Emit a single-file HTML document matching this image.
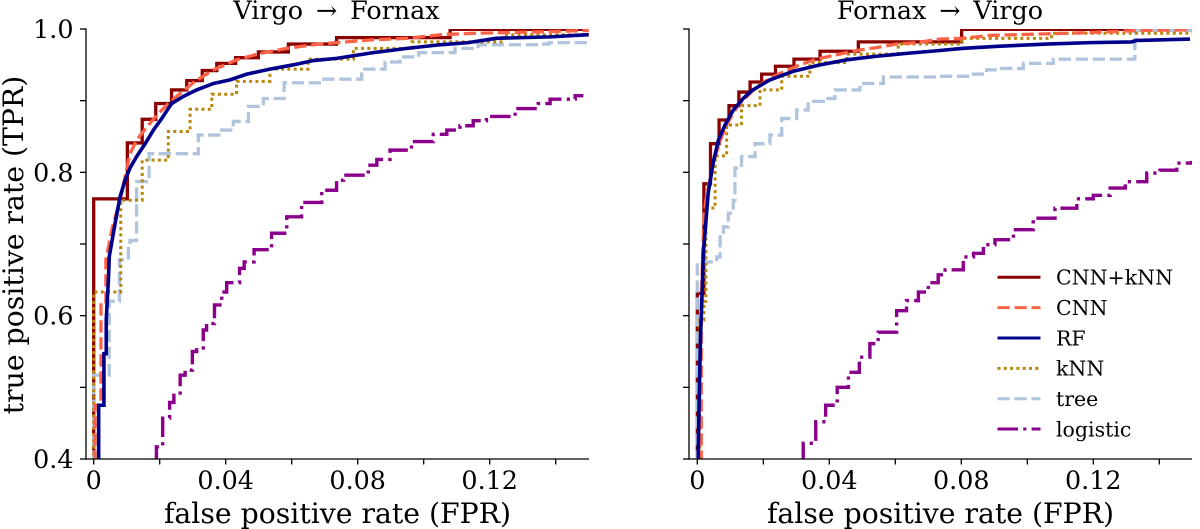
<!DOCTYPE html>
<html lang="en">
<head>
<meta charset="utf-8">
<title>ROC curves</title>
<style>
html,body{margin:0;padding:0;background:#fff;width:1200px;height:529px;overflow:hidden}
svg{display:block}
text{font-family:"DejaVu Serif","Liberation Serif",serif;fill:#000}
.t{font-size:25.4px}
.h{font-size:25.4px}
.a{font-size:28.3px}
.l{font-size:20.5px}
</style>
</head>
<body>
<svg id="chart" xmlns="http://www.w3.org/2000/svg" width="1200" height="529" viewBox="0 0 1200 529">
  <defs>
    <clipPath id="clip-left"><rect x="86" y="29" width="503" height="430"/></clipPath>
    <clipPath id="clip-right"><rect x="689" y="29" width="503" height="430"/></clipPath>
  </defs>
  <g id="panel-left"></g>
  <g id="panel-right"></g>
  <text class="h" x="336.5" y="19" text-anchor="middle" word-spacing="4.8">Virgo → Fornax</text>
  <text class="h" x="940" y="19" text-anchor="middle" word-spacing="4.8">Fornax → Virgo</text>
  <text class="a" x="337.5" y="523" text-anchor="middle">false positive rate (FPR)</text>
  <text class="a" x="940.5" y="523" text-anchor="middle">false positive rate (FPR)</text>
  <text class="a" transform="translate(23,245) rotate(-90)" text-anchor="middle">true positive rate (TPR)</text>
  <g id="legend"></g>
</svg>
<script>
// ---- tick data ----
const xTicks = [0, 0.02, 0.04, 0.06, 0.08, 0.10, 0.12, 0.14];
const xTickLabels = ["0", "", "0.04", "", "0.08", "", "0.12", ""];
const yTicks = [0.4, 0.5, 0.6, 0.7, 0.8, 0.9, 1.0];
const yTickLabels = ["0.4", "", "0.6", "", "0.8", "", "1.0"];
const legendLabels = ["CNN+kNN", "CNN", "RF", "kNN", "tree", "logistic"];

// ---- left panel: Virgo -> Fornax ----
const leftCnnKnnFpr = [0, 0.0102, 0.0147, 0.0188, 0.0236, 0.0282, 0.0329, 0.0373, 0.043, 0.0499, 0.059, 0.0736, 0.108, 0.15];
const leftCnnKnnTpr = [0.763, 0.841, 0.874, 0.896, 0.915, 0.928, 0.942, 0.952, 0.96, 0.968, 0.979, 0.988, 0.9995, 0.9995];
const leftCnnFpr = [0.0004, 0.0004, 0.0022, 0.0022, 0.0037, 0.0037, 0.0055, 0.0085, 0.0095, 0.011, 0.013, 0.0166, 0.0196, 0.0226, 0.0262, 0.0307, 0.0363, 0.0433, 0.0504, 0.0585, 0.0666, 0.0736, 0.0847, 0.095, 0.105, 0.115, 0.125, 0.135, 0.15];
const leftCnnTpr = [0.3, 0.475, 0.475, 0.615, 0.615, 0.678, 0.72, 0.771, 0.794, 0.826, 0.845, 0.866, 0.882, 0.896, 0.91, 0.927, 0.943, 0.957, 0.966, 0.973, 0.978, 0.981, 0.985, 0.987, 0.992, 0.994, 0.995, 0.996, 0.998];
const leftRfFpr = [0.0015, 0.0015, 0.0031, 0.0031, 0.0038, 0.0038, 0.0045, 0.0047, 0.0065, 0.008, 0.0095, 0.011, 0.013, 0.0156, 0.0181, 0.0206, 0.0236, 0.0272, 0.0312, 0.0363, 0.0413, 0.0464, 0.0534, 0.0605, 0.0666, 0.0736, 0.0847, 0.0949, 0.105, 0.1135, 0.122, 0.1383, 0.15];
const leftRfTpr = [0.3, 0.475, 0.475, 0.547, 0.547, 0.594, 0.654, 0.682, 0.729, 0.766, 0.789, 0.806, 0.822, 0.84, 0.859, 0.875, 0.896, 0.906, 0.915, 0.924, 0.929, 0.937, 0.944, 0.95, 0.956, 0.959, 0.967, 0.973, 0.978, 0.981, 0.987, 0.989, 0.992];
const leftKnnFpr = [0, 0.0082, 0.0147, 0.0226, 0.0292, 0.0358, 0.0433, 0.0534, 0.065, 0.0787, 0.0964, 0.124, 0.15];
const leftKnnTpr = [0.633, 0.761, 0.817, 0.857, 0.888, 0.909, 0.927, 0.944, 0.958, 0.973, 0.982, 0.992, 0.992];
const leftTreeFpr = [0, 0.0047, 0.0078, 0.0105, 0.011, 0.013, 0.0168, 0.0317, 0.0388, 0.0423, 0.0469, 0.0514, 0.0577, 0.0691, 0.0812, 0.0883, 0.0928, 0.0985, 0.1095, 0.1165, 0.1353, 0.138, 0.15];
const leftTreeTpr = [0.517, 0.62, 0.678, 0.696, 0.705, 0.787, 0.826, 0.852, 0.859, 0.871, 0.892, 0.903, 0.925, 0.93, 0.944, 0.954, 0.961, 0.967, 0.973, 0.978, 0.979, 0.981, 0.981];
const leftLogisticFpr = [0.0183, 0.019, 0.0209, 0.023, 0.0243, 0.0262, 0.0277, 0.0299, 0.0312, 0.0332, 0.0342, 0.0366, 0.0388, 0.0403, 0.0442, 0.0456, 0.0486, 0.0539, 0.0585, 0.063, 0.0691, 0.0736, 0.0757, 0.0832, 0.0858, 0.0898, 0.0963, 0.1029, 0.107, 0.111, 0.115, 0.119, 0.1277, 0.1347, 0.1383, 0.1459, 0.1484];
const leftLogisticTpr = [0.39, 0.417, 0.457, 0.479, 0.492, 0.517, 0.524, 0.55, 0.555, 0.58, 0.589, 0.615, 0.633, 0.646, 0.666, 0.675, 0.692, 0.715, 0.738, 0.758, 0.775, 0.789, 0.796, 0.81, 0.818, 0.831, 0.843, 0.853, 0.859, 0.865, 0.872, 0.878, 0.889, 0.896, 0.902, 0.907, 0.907];

// ---- right panel: Fornax -> Virgo ----
const rightCnnKnnFpr = [0, 0.002, 0.004, 0.0066, 0.0096, 0.0126, 0.016, 0.0195, 0.0237, 0.0293, 0.0372, 0.0488, 0.0801, 0.15];
const rightCnnKnnTpr = [0.631, 0.784, 0.84, 0.873, 0.893, 0.912, 0.926, 0.937, 0.948, 0.958, 0.969, 0.982, 0.9995, 0.9995];
const rightCnnFpr = [0.0012, 0.0012, 0.002, 0.0026, 0.0036, 0.0048, 0.0059, 0.0074, 0.0094, 0.0124, 0.0155, 0.018, 0.022, 0.026, 0.0311, 0.0361, 0.0422, 0.0483, 0.0543, 0.0604, 0.0665, 0.0735, 0.0801, 0.0887, 0.1039, 0.119, 0.1342, 0.1493];
const rightCnnTpr = [0.3, 0.62, 0.738, 0.761, 0.785, 0.813, 0.829, 0.85, 0.871, 0.894, 0.908, 0.919, 0.931, 0.94, 0.95, 0.958, 0.964, 0.97, 0.974, 0.979, 0.981, 0.986, 0.987, 0.991, 0.993, 0.995, 0.998, 0.999];
const rightRfFpr = [0.0002, 0.0003, 0.0006, 0.001, 0.0015, 0.0018, 0.0033, 0.0048, 0.0064, 0.0084, 0.0109, 0.0139, 0.0165, 0.022, 0.0291, 0.0372, 0.0453, 0.0543, 0.0634, 0.0735, 0.0806, 0.0917, 0.1059, 0.119, 0.1316, 0.1331, 0.1493];
const rightRfTpr = [0.3, 0.4126, 0.491, 0.575, 0.636, 0.685, 0.771, 0.813, 0.845, 0.866, 0.887, 0.903, 0.914, 0.929, 0.941, 0.95, 0.957, 0.962, 0.966, 0.97, 0.973, 0.976, 0.979, 0.981, 0.982, 0.984, 0.986];
const rightKnnFpr = [0.0008, 0.002, 0.0026, 0.0054, 0.0089, 0.0134, 0.019, 0.0256, 0.0341, 0.0453, 0.0609, 0.0801, 0.1074, 0.15];
const rightKnnTpr = [0.594, 0.62, 0.75, 0.823, 0.866, 0.893, 0.915, 0.934, 0.953, 0.965, 0.979, 0.987, 0.994, 0.994];
const rightTreeFpr = [0, 0.0059, 0.0069, 0.0079, 0.0094, 0.0109, 0.0114, 0.0134, 0.0175, 0.022, 0.0256, 0.0301, 0.0336, 0.0382, 0.0417, 0.0493, 0.0564, 0.0735, 0.0831, 0.0877, 0.0917, 0.0988, 0.1079, 0.1326, 0.15];
const rightTreeTpr = [0.675, 0.682, 0.71, 0.724, 0.743, 0.761, 0.806, 0.822, 0.84, 0.852, 0.875, 0.887, 0.899, 0.903, 0.915, 0.924, 0.933, 0.934, 0.937, 0.943, 0.945, 0.952, 0.958, 0.998, 0.998];
const rightLogisticFpr = [0.0321, 0.0321, 0.0359, 0.0389, 0.0424, 0.0458, 0.0491, 0.0523, 0.0548, 0.0604, 0.0634, 0.067, 0.07, 0.073, 0.0751, 0.0806, 0.0837, 0.0867, 0.0902, 0.0958, 0.1018, 0.1084, 0.115, 0.12, 0.1251, 0.1297, 0.1362, 0.1402, 0.1453, 0.1498];
const rightLogisticTpr = [0.39, 0.422, 0.452, 0.475, 0.5, 0.521, 0.542, 0.561, 0.577, 0.607, 0.621, 0.633, 0.646, 0.657, 0.664, 0.682, 0.687, 0.699, 0.706, 0.72, 0.736, 0.75, 0.763, 0.768, 0.778, 0.787, 0.799, 0.803, 0.813, 0.816];

// ---- axis functions ----
const SVG_NS = "http://www.w3.org/2000/svg";
function xScale(origin, v) { return origin + v * 3300; }
function yScale(v) { return 29 + (1 - v) * 716.67; }

const styleSolidRed = { color: "#8b0000", width: 3.3, dash: "" };
const styleCnn = { color: "#ff6347", width: 3.3, dash: "12.3 4.7" };
const styleRf = { color: "#00008b", width: 3.6, dash: "" };
const styleKnn = { color: "#b8860b", width: 3, dash: "3 3.3" };
const styleTree = { color: "#b0c4de", width: 3.3, dash: "12.3 4.7" };
const styleLogistic = { color: "#8b008b", width: 3.4, dash: "20.5 5.2 3.2 5.2" };

function makePath(fprs, tprs, origin, mode) {
  let d = "M" + xScale(origin, fprs[0]).toFixed(2) + " " + yScale(mode === "step" ? 0.3 : tprs[0]).toFixed(2);
  if (mode === "step") {
    d += "V" + yScale(tprs[0]).toFixed(2);
  }
  for (let i = 1; i < fprs.length; i++) {
    if (mode === "step") {
      d += "H" + xScale(origin, fprs[i]).toFixed(2) + "V" + yScale(tprs[i]).toFixed(2);
    } else {
      d += "L" + xScale(origin, fprs[i]).toFixed(2) + " " + yScale(tprs[i]).toFixed(2);
    }
  }
  return d;
}

function addCurve(parent, fprs, tprs, origin, mode, style, name) {
  const p = document.createElementNS(SVG_NS, "path");
  p.setAttribute("d", makePath(fprs, tprs, origin, mode));
  p.setAttribute("fill", "none");
  p.setAttribute("stroke", style.color);
  p.setAttribute("stroke-width", style.width);
  p.setAttribute("stroke-linejoin", "miter");
  if (style.dash) p.setAttribute("stroke-dasharray", style.dash);
  
  
  parent.appendChild(p);
}

function addLine(parent, x1, y1, x2, y2, w, name) {
  const l = document.createElementNS(SVG_NS, "line");
  l.setAttribute("x1", x1);
  l.setAttribute("y1", y1);
  l.setAttribute("x2", x2);
  l.setAttribute("y2", y2);
  l.setAttribute("stroke", "#000");
  l.setAttribute("stroke-width", w);
  
  
  parent.appendChild(l);
}

function addText(parent, x, y, str, anchor, cls, name) {
  const t = document.createElementNS(SVG_NS, "text");
  t.setAttribute("x", x);
  t.setAttribute("y", y);
  t.setAttribute("text-anchor", anchor);
  t.setAttribute("class", cls);
  t.textContent = str;
  
  
  parent.appendChild(t);
}

function drawAxes(g, origin, spineX, showYLabels, side) {
  const right = spineX + 503;
  addLine(g, spineX, 28.4, spineX, 459.6, 1.3, side + "-y-axis-line");
  addLine(g, spineX - 0.6, 459, right, 459, 1.3, side + "-x-axis-line");
  xTicks.forEach(function (v, i) {
    const px = xScale(origin, v);
    addLine(g, px, 459, px, 464.5, 1.3, side + "-x-tick");
    if (xTickLabels[i]) addText(g, px, 489, xTickLabels[i], "middle", "t", side + "-x-tick-label");
  });
  yTicks.forEach(function (v, i) {
    const py = yScale(v);
    addLine(g, spineX - 6, py, spineX, py, 1.3, side + "-y-tick");
    if (showYLabels && yTickLabels[i]) addText(g, spineX - 12.5, py + 9, yTickLabels[i], "end", "t", side + "-y-tick-label");
  });
}

function drawCurves(g, clipId, origin, side, d) {
  const c = document.createElementNS(SVG_NS, "g");
  c.setAttribute("clip-path", "url(#" + clipId + ")");
  
  
  g.appendChild(c);
  addCurve(c, d.cnnKnnF, d.cnnKnnT, origin, "step", styleSolidRed, side + "-cnn-knn-curve");
  addCurve(c, d.logF, d.logT, origin, "step", styleLogistic, side + "-logistic-curve");
  addCurve(c, d.treeF, d.treeT, origin, "step", styleTree, side + "-tree-curve");
  addCurve(c, d.knnF, d.knnT, origin, "step", styleKnn, side + "-knn-curve");
  addCurve(c, d.cnnF, d.cnnT, origin, "line", styleCnn, side + "-cnn-curve");
  addCurve(c, d.rfF, d.rfT, origin, "line", styleRf, side + "-rf-curve");
}

const panelLeft = document.getElementById("panel-left");
const panelRight = document.getElementById("panel-right");
drawCurves(panelLeft, "clip-left", 93.7, "left", {
  cnnKnnF: leftCnnKnnFpr, cnnKnnT: leftCnnKnnTpr, cnnF: leftCnnFpr, cnnT: leftCnnTpr,
  rfF: leftRfFpr, rfT: leftRfTpr, knnF: leftKnnFpr, knnT: leftKnnTpr,
  treeF: leftTreeFpr, treeT: leftTreeTpr, logF: leftLogisticFpr, logT: leftLogisticTpr
});
drawAxes(panelLeft, 93.7, 86, true, "left");
drawCurves(panelRight, "clip-right", 697.3, "right", {
  cnnKnnF: rightCnnKnnFpr, cnnKnnT: rightCnnKnnTpr, cnnF: rightCnnFpr, cnnT: rightCnnTpr,
  rfF: rightRfFpr, rfT: rightRfTpr, knnF: rightKnnFpr, knnT: rightKnnTpr,
  treeF: rightTreeFpr, treeT: rightTreeTpr, logF: rightLogisticFpr, logT: rightLogisticTpr
});
drawAxes(panelRight, 697.3, 689, false, "right");

// ---- legend ----
const legendStyles = [styleSolidRed, styleCnn, styleRf, styleKnn, styleTree, styleLogistic];
const legendGroup = document.getElementById("legend");
legendLabels.forEach(function (label, i) {
  const y = 277.3 + i * 30.35;
  const s = legendStyles[i];
  const h = document.createElementNS(SVG_NS, "line");
  h.setAttribute("x1", 997.5);
  h.setAttribute("y1", y);
  h.setAttribute("x2", 1040.5);
  h.setAttribute("y2", y);
  h.setAttribute("stroke", s.color);
  h.setAttribute("stroke-width", 3);
  if (s.dash) h.setAttribute("stroke-dasharray", s.dash);
  
  
  legendGroup.appendChild(h);
  addText(legendGroup, 1056, y + 7.3, label, "start", "l", "legend-label");
});
</script>
</body>
</html>
